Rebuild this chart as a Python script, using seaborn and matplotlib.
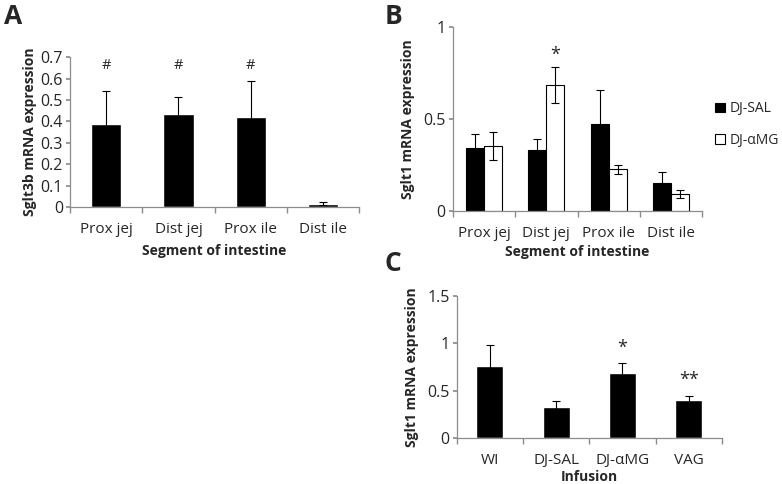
import numpy as np
import pandas as pd
import matplotlib
matplotlib.use("Agg")
import matplotlib.pyplot as plt
import seaborn as sns

# ------------------------------
# Podaci
# ------------------------------
segments = ["Prox jej", "Dist jej", "Prox ile", "Dist ile"]

sglt3b_mean = [0.39, 0.435, 0.42, 0.015]
sglt3b_err = [0.152, 0.08, 0.167, 0.007]
sglt3b_marks = ["#", "#", "#", ""]

groups_b = ["DJ-SAL", "DJ-\u03b1MG"]
sglt1_sal = [0.34, 0.33, 0.472, 0.15]
sglt1_sal_err = [0.08, 0.06, 0.184, 0.06]
sglt1_amg = [0.354, 0.687, 0.226, 0.092]
sglt1_amg_err = [0.077, 0.097, 0.024, 0.021]

infusions = ["WI", "DJ-SAL", "DJ-\u03b1MG", "VAG"]
infusion_mean = [0.757, 0.333, 0.69, 0.40]
infusion_err = [0.231, 0.063, 0.099, 0.049]
infusion_marks = ["", "", "*", "**"]

sns.set_theme(style="white")
plt.rcParams["font.family"] = ["Open Sans", "DejaVu Sans"]

AXIS_GRAY = "#8c8c8c"


def style_axes(ax, xpad=5):
    sns.despine(ax=ax)
    for side in ["left", "bottom"]:
        ax.spines[side].set_color(AXIS_GRAY)
        ax.spines[side].set_linewidth(0.9)
    ax.tick_params(axis="y", which="both", left=True, length=3, color=AXIS_GRAY,
                   labelsize=11.5, pad=2)
    ax.tick_params(axis="x", which="major", bottom=False, labelsize=11, pad=xpad)
    # tick marks between categories
    n = len(ax.get_xticks())
    ax.set_xticks(np.arange(-0.5, n, 1.0), minor=True)
    ax.tick_params(axis="x", which="minor", bottom=True, length=4, color=AXIS_GRAY)
    ax.set_xlim(-0.5, n - 0.5)


def add_errors(ax, bars, errs):
    for bar, e in zip(bars, errs):
        x = bar.get_x() + bar.get_width() / 2
        ax.errorbar(x, bar.get_height(), yerr=e, fmt="none", ecolor="black",
                    elinewidth=0.8, capsize=3, capthick=0.8, zorder=5)


fig = plt.figure(figsize=(7.82, 4.84), dpi=100)

# ------------------------------
# Panel A
# ------------------------------
axA = fig.add_axes([0.0895, 0.572, 0.37, 0.31])
dfA = pd.DataFrame({"segment": segments, "value": sglt3b_mean})
sns.barplot(data=dfA, x="segment", y="value", color="black", width=0.42,
            errorbar=None, ax=axA, saturation=1)
add_errors(axA, axA.patches, sglt3b_err)
for bar, m in zip(axA.patches, sglt3b_marks):
    if m:
        axA.text(bar.get_x() + bar.get_width() / 2, 0.66, m, ha="center",
                 va="center", fontsize=10.5)
axA.set_ylim(0, 0.7)
axA.set_yticks(np.arange(0, 0.71, 0.1))
axA.set_yticklabels(["0", "0.1", "0.2", "0.3", "0.4", "0.5", "0.6", "0.7"])
axA.set_ylabel("Sglt3b mRNA expression", fontsize=10, fontweight="bold", labelpad=3)
axA.set_xlabel("Segment of intestine", fontsize=10, fontweight="bold", labelpad=5)
style_axes(axA)

# ------------------------------
# Panel B
# ------------------------------
axB = fig.add_axes([0.579, 0.564, 0.319, 0.38])
dfB = pd.DataFrame({
    "segment": segments * 2,
    "value": sglt1_sal + sglt1_amg,
    "group": [groups_b[0]] * 4 + [groups_b[1]] * 4,
})
sns.barplot(data=dfB, x="segment", y="value", hue="group",
            palette=["black", "white"], width=0.58, gap=0, errorbar=None,
            edgecolor="black", linewidth=0.8, ax=axB, saturation=1)
barsB = axB.patches[:8]
add_errors(axB, barsB, sglt1_sal_err + sglt1_amg_err)
star_bar = barsB[4 + 1]
axB.text(star_bar.get_x() + star_bar.get_width() / 2, 0.85, "*", ha="center",
         va="center", fontsize=13)
axB.set_ylim(0, 1)
axB.set_yticks([0, 0.5, 1])
axB.set_yticklabels(["0", "0.5", "1"])
axB.set_ylabel("Sglt1 mRNA expression", fontsize=10, fontweight="bold", labelpad=6)
axB.set_xlabel("Segment of intestine", fontsize=10, fontweight="bold", labelpad=3)
style_axes(axB)
axB.legend(loc="center left", bbox_to_anchor=(1.03, 0.47), frameon=False,
           fontsize=10, handlelength=0.7, handleheight=0.7, handletextpad=0.3,
           labelspacing=1.2, borderaxespad=0)

# ------------------------------
# Panel C
# ------------------------------
axC = fig.add_axes([0.584, 0.095, 0.339, 0.293])
dfC = pd.DataFrame({"infusion": infusions, "value": infusion_mean})
sns.barplot(data=dfC, x="infusion", y="value", color="black", width=0.41,
            errorbar=None, ax=axC, saturation=1)
add_errors(axC, axC.patches, infusion_err)
for bar, m, e in zip(axC.patches, infusion_marks, infusion_err):
    if m:
        axC.text(bar.get_x() + bar.get_width() / 2, bar.get_height() + e + 0.17, m,
                 ha="center", va="center", fontsize=13)
axC.set_ylim(0, 1.5)
axC.set_yticks([0, 0.5, 1, 1.5])
axC.set_yticklabels(["0", "0.5", "1", "1.5"])
axC.set_ylabel("Sglt1 mRNA expression", fontsize=10, fontweight="bold", labelpad=6)
axC.set_xlabel("Infusion", fontsize=10, fontweight="bold", labelpad=1)
style_axes(axC)

# Oznake panela
fig.text(0.005, 0.965, "A", fontsize=19, fontweight="bold", va="center")
fig.text(0.492, 0.965, "B", fontsize=19, fontweight="bold", va="center")
fig.text(0.492, 0.455, "C", fontsize=19, fontweight="bold", va="center")

fig.savefig("out.png", dpi=100)
